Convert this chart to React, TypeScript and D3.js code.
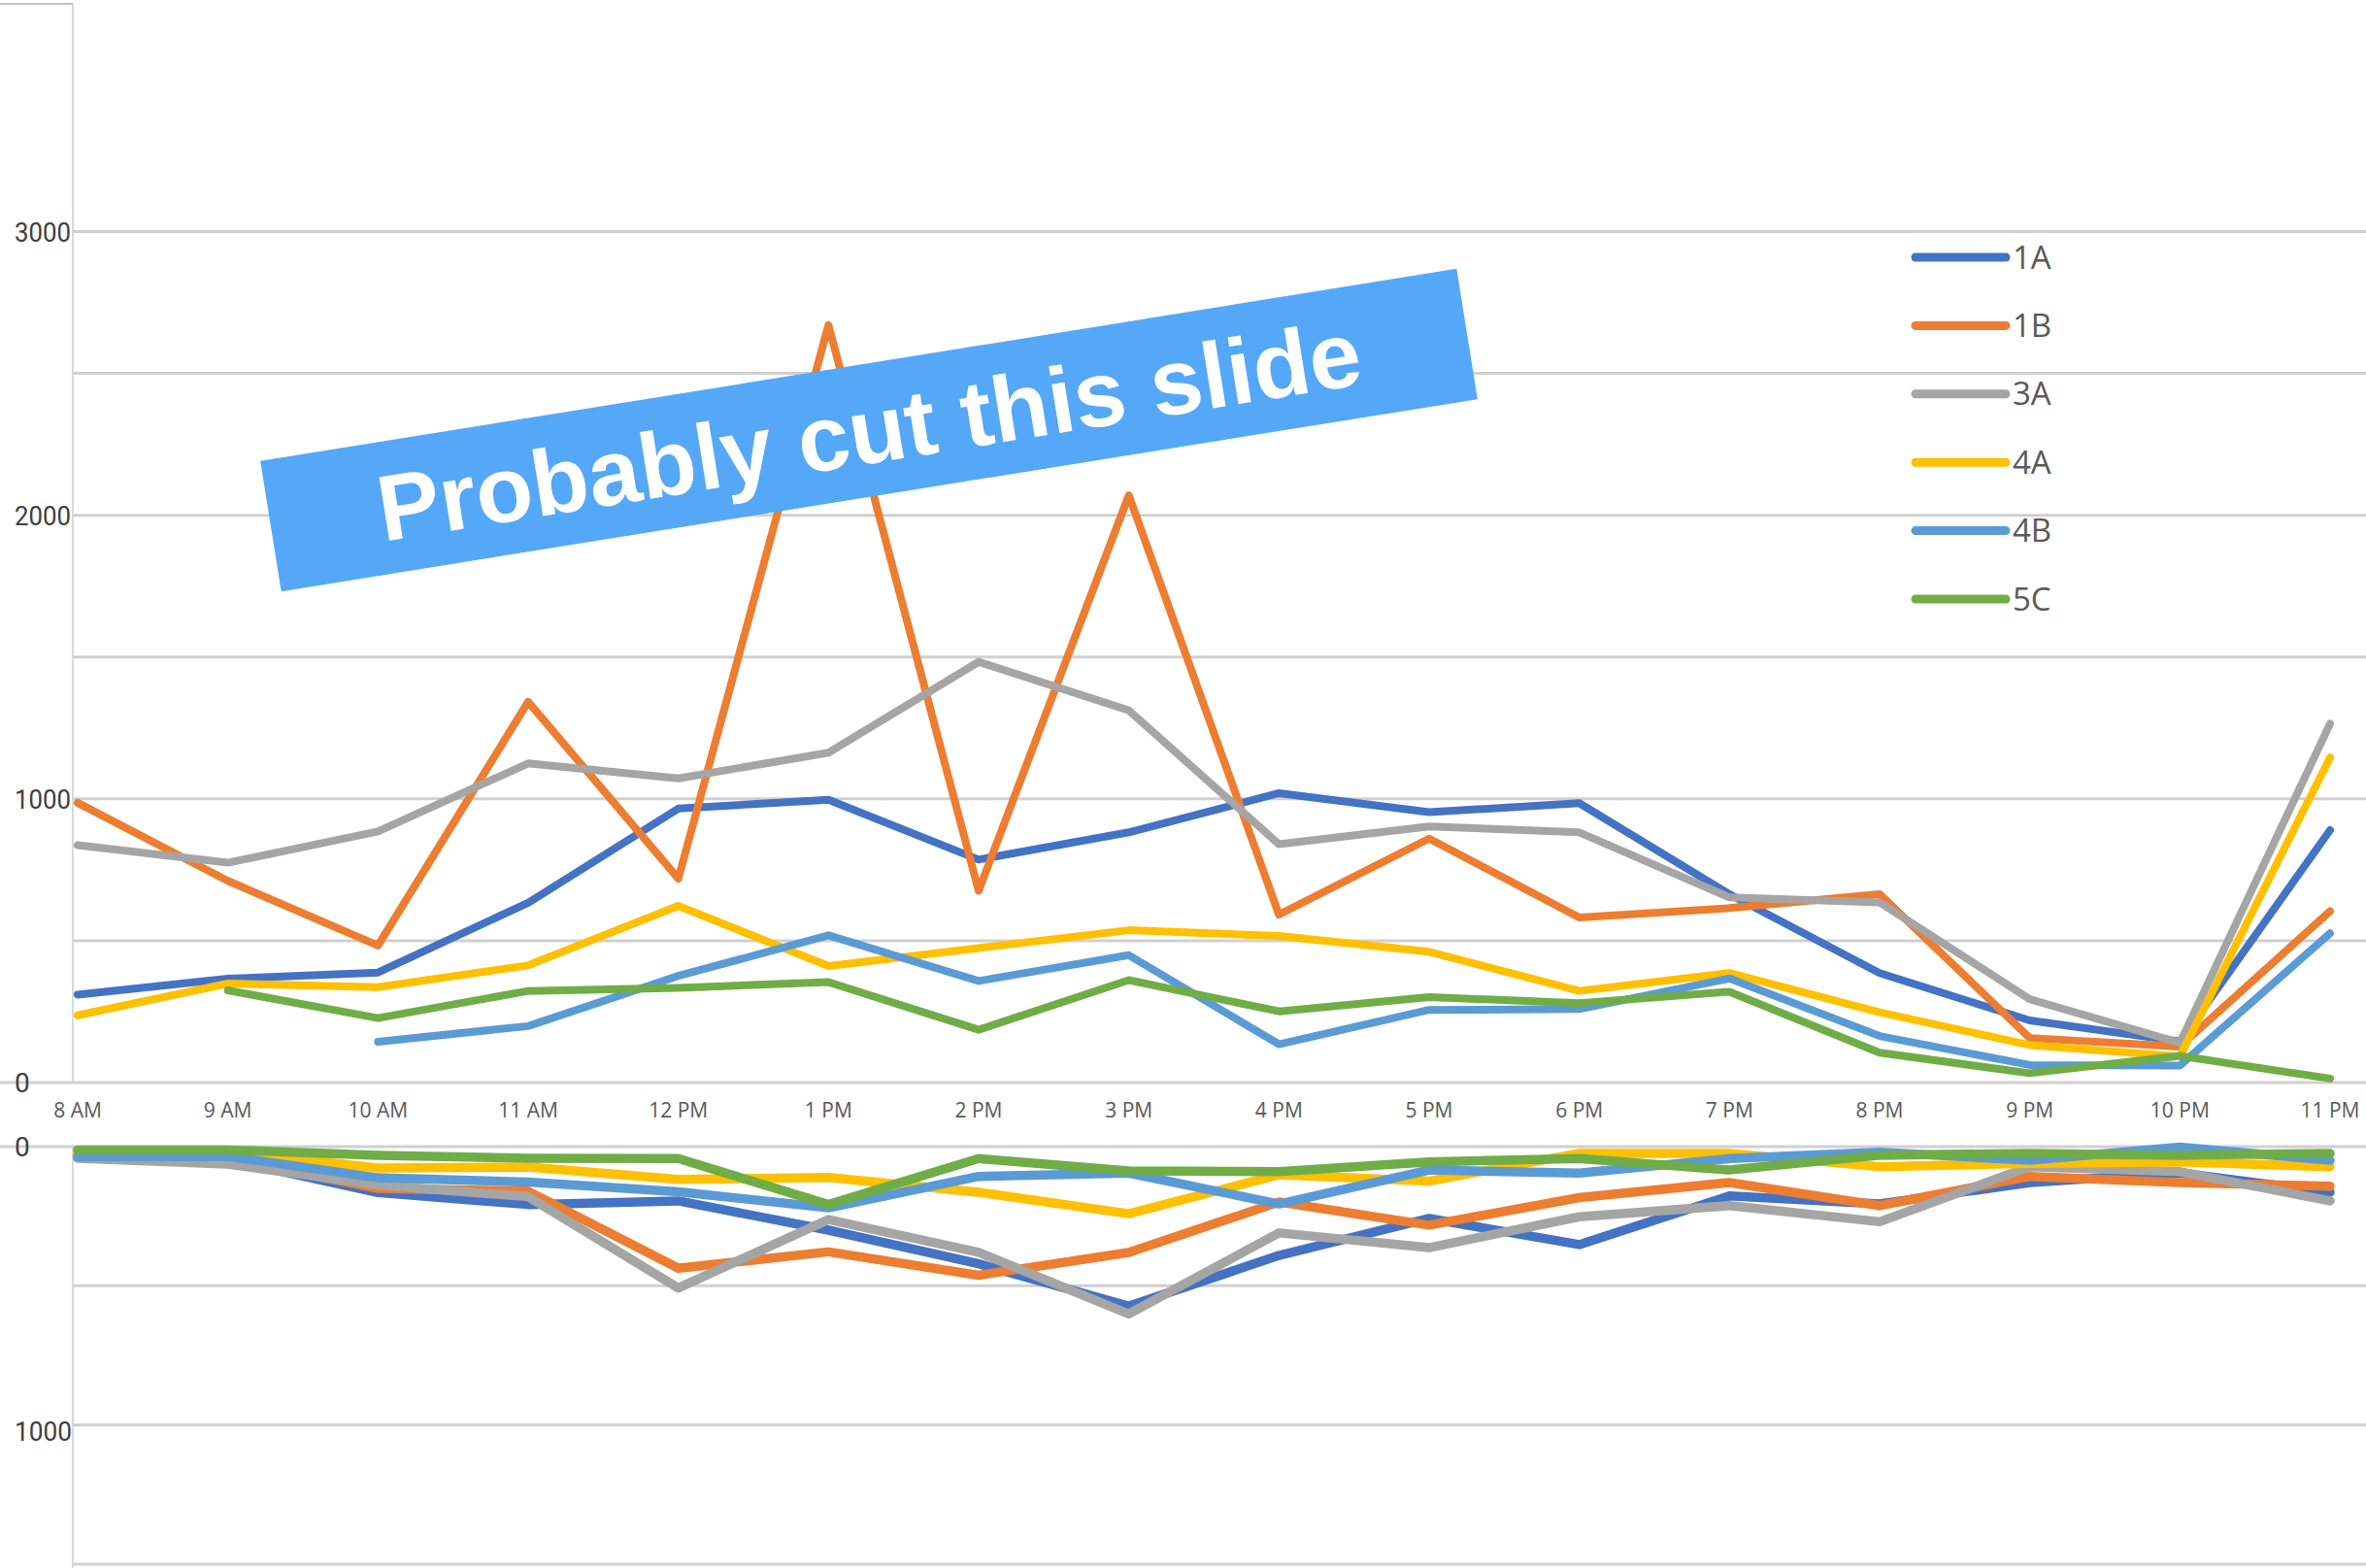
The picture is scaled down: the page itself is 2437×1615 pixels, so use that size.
import React from "react";
import * as d3 from "d3";

const categories = ["8 AM", "9 AM", "10 AM", "11 AM", "12 PM", "1 PM", "2 PM", "3 PM", "4 PM", "5 PM", "6 PM", "7 PM", "8 PM", "9 PM", "10 PM", "11 PM"];
const seriesNames = ["1A", "1B", "3A", "4A", "4B", "5C"];
const seriesColors = ["#4472C4", "#ED7D31", "#A5A5A5", "#FFC000", "#5B9BD5", "#70AD47"];

// upper chart values
const top1A = [310, 366, 388, 634, 966, 997, 786, 882, 1020, 953, 985, 664, 386, 219, 145, 890];
const top1B = [986, 711, 483, 1342, 719, 2670, 676, 2070, 592, 860, 582, 615, 664, 157, 127, 604];
const top3A = [837, 775, 885, 1125, 1072, 1163, 1483, 1312, 840, 903, 882, 653, 635, 294, 140, 1265];
const top4A = [237, 349, 336, 413, 623, 411, 474, 537, 517, 461, 323, 386, 248, 132, 92, 1146];
const top4B = [null, null, 144, 199, 376, 519, 358, 449, 135, 256, 259, 367, 164, 62, 60, 526];
const top5C = [null, 325, 227, 323, 334, 354, 186, 361, 251, 301, 280, 320, 105, 33, 94, 14];

// lower (inverted) chart values
const bot1A = [36, 47, 165, 208, 195, 300, 421, 573, 391, 258, 352, 177, 206, 129, 94, 164];
const bot1B = [40, 42, 150, 160, 437, 378, 462, 380, 199, 282, 183, 129, 212, 107, 129, 142];
const bot3A = [42, 63, 138, 180, 508, 262, 380, 601, 310, 363, 252, 212, 270, 72, 90, 195];
const bot4A = [25, 18, 77, 73, 118, 111, 164, 241, 101, 124, 24, 24, 72, 60, 55, 72];
const bot4B = [36, 35, 112, 127, 162, 220, 107, 95, 206, 84, 95, 43, 20, 49, 2, 49];
const bot5C = [12, 12, 31, 42, 43, 208, 43, 87, 90, 55, 43, 84, 31, 24, 31, 24];

const topTicks = [0, 500, 1000, 1500, 2000, 2500, 3000];
const topLabels = [0, 1000, 2000, 3000];
const botTicks = [0, 500, 1000, 1500];
const botLabels = [0, 1000];

const bannerText = "Probably cut this slide";

const W = 2437;
const H = 1615;

export default function App() {
  const topSeries = [top1A, top1B, top3A, top4A, top4B, top5C];
  const botSeries = [bot1A, bot1B, bot3A, bot4A, bot4B, bot5C];

  const x = d3.scalePoint<string>().domain(categories).range([80, 2400]);
  const yTop = d3.scaleLinear().domain([0, 3000]).range([1115, 238.5]);
  const yBot = d3.scaleLinear().domain([0, 1500]).range([1181, 1611]);

  const lineTop = d3
    .line<number | null>()
    .defined((d) => d != null)
    .x((_, i) => x(categories[i]) as number)
    .y((d) => yTop(d as number));
  const lineBot = d3
    .line<number | null>()
    .defined((d) => d != null)
    .x((_, i) => x(categories[i]) as number)
    .y((d) => yBot(d as number));

  const axisX = 75;
  const labelFont = "Roboto, 'Open Sans', sans-serif";

  return (
    <svg
      width={W}
      height={H}
      viewBox={`0 0 ${W} ${H}`}
      style={{ position: "absolute", left: 0, top: 0, display: "block", background: "#fff" }}
    >
      <rect x={0} y={0} width={W} height={H} fill="#fff" />

      {/* top chart frame */}
      <line x1={0} x2={axisX} y1={4} y2={4} stroke="#BFBFBF" strokeWidth={2} />
      <line x1={axisX} x2={axisX} y1={4} y2={yTop(0)} stroke="#D9D9D9" strokeWidth={2} />
      {topTicks.map((t) => (
        <line
          key={"tg" + t}
          x1={t === 0 ? 0 : axisX}
          x2={W}
          y1={yTop(t)}
          y2={yTop(t)}
          stroke="#D0D0D0"
          strokeWidth={3}
        />
      ))}
      {topLabels.map((t) => (
        <text
          key={"tl" + t}
          x={15}
          y={yTop(t)}
          dy="0.36em"
          fontFamily={labelFont}
          fontSize={28}
          fill="#404040"
          textLength={t === 0 ? undefined : 58}
          lengthAdjust="spacingAndGlyphs"
        >
          {t}
        </text>
      ))}

      {/* bottom chart frame */}
      <line x1={axisX} x2={axisX} y1={yBot(0)} y2={H} stroke="#D9D9D9" strokeWidth={2} />
      {botTicks.map((t) => (
        <line
          key={"bg" + t}
          x1={t === 0 ? 0 : axisX}
          x2={W}
          y1={yBot(t)}
          y2={yBot(t)}
          stroke="#D0D0D0"
          strokeWidth={3}
        />
      ))}
      {botLabels.map((t) => (
        <text
          key={"bl" + t}
          x={15}
          y={yBot(t) + (t === 0 ? 0 : 6)}
          dy="0.36em"
          fontFamily={labelFont}
          fontSize={28}
          fill="#404040"
          textLength={t === 0 ? undefined : 59}
          lengthAdjust="spacingAndGlyphs"
        >
          {t}
        </text>
      ))}

      {/* x labels */}
      {categories.map((c) => (
        <text
          key={"xl" + c}
          x={x(c) as number}
          y={1143}
          textAnchor="middle"
          dominantBaseline="central"
          fontFamily="'Open Sans', sans-serif"
          fontSize={21}
          fill="#595959"
        >
          {c}
        </text>
      ))}

      {/* top lines */}
      {topSeries.map((s, i) => (
        <path
          key={"tp" + i}
          d={lineTop(s) || ""}
          fill="none"
          stroke={seriesColors[i]}
          strokeWidth={8}
          strokeLinejoin="round"
          strokeLinecap="round"
        />
      ))}

      {/* bottom lines */}
      {botSeries.map((s, i) => (
        <path
          key={"bp" + i}
          d={lineBot(s) || ""}
          fill="none"
          stroke={seriesColors[i]}
          strokeWidth={9.5}
          strokeLinejoin="round"
          strokeLinecap="round"
        />
      ))}

      {/* legend */}
      {seriesNames.map((n, i) => {
        const ly = 265 + i * 70.4;
        return (
          <g key={"lg" + n}>
            <line x1={1973} x2={2066} y1={ly} y2={ly} stroke={seriesColors[i]} strokeWidth={9} strokeLinecap="round" />
            <text
              x={2073}
              y={ly}
              dy="0.35em"
              fontFamily="'Open Sans', sans-serif"
              fontSize={33}
              fill="#595959"
            >
              {n}
            </text>
          </g>
        );
      })}

      {/* banner */}
      <g transform="translate(895,443) rotate(-9.13)">
        <rect x={-624} y={-68} width={1248} height={136} fill="#55A8F7" />
        <text
          x={0}
          y={34}
          textAnchor="middle"
          fontFamily="'Liberation Sans', Arial, sans-serif"
          fontWeight="bold"
          fontSize={96}
          fill="#ffffff"
        >
          {bannerText}
        </text>
      </g>
    </svg>
  );
}
